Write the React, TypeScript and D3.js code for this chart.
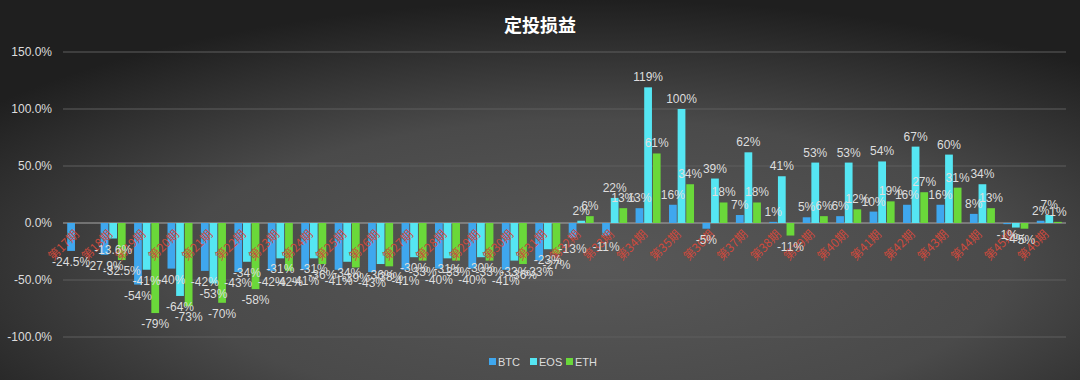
import React from "react";
import * as d3 from "d3";

const categories: string[] = [
  "第17期","第18期","第19期","第20期","第21期","第22期","第23期","第24期","第25期","第26期",
  "第27期","第28期","第29期","第30期","第31期","第32期","第33期","第34期","第35期","第36期",
  "第37期","第38期","第39期","第40期","第41期","第42期","第43期","第44期","第45期","第46期",
];
const btc: (number | null)[] = [
  -24.5, -27.9, -54, -40, -42, -43, -42, -41, -41, -43,
  -41, -40, -40, -41, -33, -13, -11, 13, 16, -5,
  7, 1, 5, 6, 10, 16, 16, 8, -1, 2,
];
const eos: (number | null)[] = [
  null, -13.6, -41, -64, -53, -34, -31, -31, -34, -36,
  -30, -31, -30, -33, -23, 2, 22, 119, 100, 39,
  62, 41, 53, 53, 54, 67, 60, 34, -4, 7,
];
const eth: (number | null)[] = [
  null, -32.5, -79, -73, -70, -58, -42, -36, -39, -38,
  -33, -33, -33, -36, -27, 6, 13, 61, 34, 18,
  18, -11, 6, 12, 19, 27, 31, 13, -5, 1,
];
const seriesNames = ["BTC", "EOS", "ETH"];
const seriesColors = ["#3fa7ee", "#55e6f3", "#6ad83a"];
const yTicks = [-100, -50, 0, 50, 100, 150];

const W = 1080, H = 380;
const left = 63, right = 1066, yTop = 52, yBottom = 337;

export default function App() {
  const series = [btc, eos, eth];
  const x0 = d3.scaleBand<string>().domain(categories).range([left, right]).paddingInner(0.2).paddingOuter(0.1);
  const x1 = d3.scaleBand<string>().domain(seriesNames).range([0, x0.bandwidth()]).padding(0.1);
  const y = d3.scaleLinear().domain([-100, 150]).range([yBottom, yTop]);
  const fmtLabel = (v: number) => (Number.isInteger(v) ? `${v}%` : `${v.toFixed(1)}%`);
  const fmtTick = (v: number) => `${v.toFixed(1)}%`;
  const font = "'Liberation Sans', Arial, sans-serif";
  const cjk = "'Noto Sans CJK SC', sans-serif";

  const legendItems = [
    { name: "BTC", x: 489 },
    { name: "EOS", x: 530 },
    { name: "ETH", x: 566 },
  ];

  return (
    <svg width={W} height={H} style={{ position: "absolute", left: 0, top: 0 }}>
      <defs>
        <radialGradient id="bg" cx="0.55" cy="0.7" r="0.7">
          <stop offset="0" stopColor="#585858" />
          <stop offset="0.55" stopColor="#4a4a4a" />
          <stop offset="1" stopColor="#1f1f1f" />
        </radialGradient>
      </defs>
      <rect x={0} y={0} width={W} height={H} fill="url(#bg)" />
      <text x={540} y={32} textAnchor="middle" fill="#ffffff" fontSize={18} fontWeight="bold" fontFamily={cjk}>
        定投损益
      </text>
      {yTicks.map((t) => (
        <g key={t}>
          {t !== 0 && (
            <line x1={left} x2={right} y1={y(t)} y2={y(t)} stroke="#5e5e5e" strokeWidth={1} />
          )}
          <text x={52} y={y(t)} dy="0.35em" textAnchor="end" fill="#dddddd" fontSize={12} fontFamily={font}>
            {fmtTick(t)}
          </text>
        </g>
      ))}
      <line x1={left} x2={right} y1={y(0)} y2={y(0)} stroke="#a8a8a8" strokeWidth={1} />
      {categories.map((c, i) => (
        <g key={c}>
          {series.map((s, k) => {
            const v = s[i];
            if (v === null || v === undefined) return null;
            const bx = (x0(c) as number) + (x1(seriesNames[k]) as number);
            const bw = x1.bandwidth();
            const top = Math.min(y(v), y(0));
            const h = Math.abs(y(v) - y(0));
            return <rect key={k} x={bx} y={top} width={bw} height={h} fill={seriesColors[k]} />;
          })}
        </g>
      ))}
      {categories.map((c, i) => {
        const cx = (x0(c) as number) + x0.bandwidth() / 2;
        return (
          <text
            key={"xl" + c}
            transform={`translate(${cx - 3},${y(0) + 9}) rotate(-45)`}
            textAnchor="end"
            dy="0.35em"
            fill="#cc4a3d"
            fontSize={12}
            fontFamily={cjk}
          >
            {c}
          </text>
        );
      })}
      {categories.map((c, i) => (
        <g key={"lb" + c}>
          {series.map((s, k) => {
            const v = s[i];
            if (v === null || v === undefined) return null;
            const bx = (x0(c) as number) + (x1(seriesNames[k]) as number) + x1.bandwidth() / 2;
            const ty = v >= 0 ? y(v) - 6 : y(v) + 15;
            return (
              <text key={k} x={bx} y={ty} textAnchor="middle" fill="#dedede" fontSize={12} fontFamily={font}>
                {fmtLabel(v)}
              </text>
            );
          })}
        </g>
      ))}
      {legendItems.map((it, k) => (
        <g key={it.name}>
          <rect x={it.x} y={358} width={7} height={7} fill={seriesColors[k]} />
          <text x={it.x + 9} y={362} dy="0.35em" fill="#dddddd" fontSize={11} fontFamily={font}>
            {it.name}
          </text>
        </g>
      ))}
    </svg>
  );
}
